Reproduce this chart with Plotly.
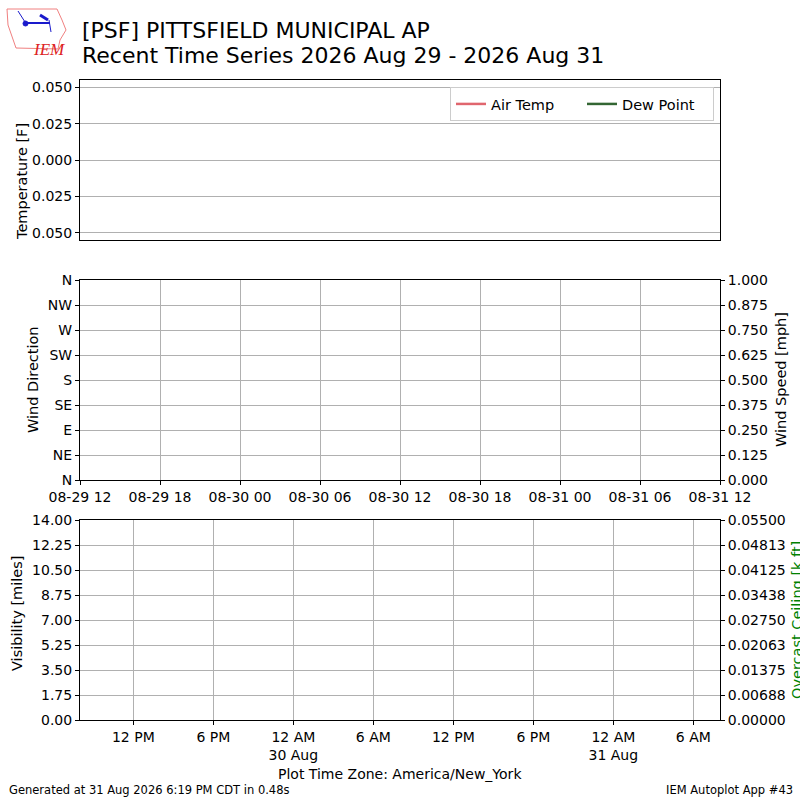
import plotly.graph_objects as go

# Dados (a estacao nao reportou nada no periodo -> series vazias)
times = [None]
air_temp = [None]
dew_point = [None]
wind_dir = [None]
wind_speed = [None]
visibility = [None]
ceiling = [None]

# Ticks
temp_ticks = [-0.05, -0.025, 0.0, 0.025, 0.05]
temp_labels = ["0.050", "0.025", "0.000", "0.025", "0.050"]
dir_ticks = [0, 45, 90, 135, 180, 225, 270, 315, 360]
dir_labels = ["N", "NE", "E", "SE", "S", "SW", "W", "NW", "N"]
speed_ticks = [0, 0.125, 0.25, 0.375, 0.5, 0.625, 0.75, 0.875, 1.0]
wind_xticks = ["2026-08-29 12:00", "2026-08-29 18:00", "2026-08-30 00:00",
               "2026-08-30 06:00", "2026-08-30 12:00", "2026-08-30 18:00",
               "2026-08-31 00:00", "2026-08-31 06:00", "2026-08-31 12:00"]
wind_xlabels = ["08-29 12", "08-29 18", "08-30 00", "08-30 06", "08-30 12",
                "08-30 18", "08-31 00", "08-31 06", "08-31 12"]
vis_ticks = [0, 1.75, 3.5, 5.25, 7.0, 8.75, 10.5, 12.25, 14.0]
ceil_ticks = [0, 0.006875, 0.01375, 0.020625, 0.0275, 0.034375, 0.04125, 0.048125, 0.055]
ceil_labels = ["0.00000", "0.00688", "0.01375", "0.02063", "0.02750",
               "0.03438", "0.04125", "0.04813", "0.05500"]
local_xticks = ["2026-08-29 12:00", "2026-08-29 18:00", "2026-08-30 00:00",
                "2026-08-30 06:00", "2026-08-30 12:00", "2026-08-30 18:00",
                "2026-08-31 00:00", "2026-08-31 06:00"]
local_xlabels = ["12 PM", "6 PM", "12 AM<br>30 Aug", "6 AM", "12 PM", "6 PM",
                 "12 AM<br>31 Aug", "6 AM"]

FONT = "DejaVu Sans"
GRID = "#b0b0b0"

# conversao pixel -> paper (area de plot 80..720 x 80..720)
def px(x):
    return (x - 80) / 640

def py(y):
    return (720 - y) / 640

fig = go.Figure()

fig.add_trace(go.Scatter(x=times, y=air_temp, name="Air Temp", mode="lines",
                         line=dict(color="#e0666e", width=2.5), xaxis="x", yaxis="y"))
fig.add_trace(go.Scatter(x=times, y=dew_point, name="Dew Point", mode="lines",
                         line=dict(color="#336633", width=2.5), xaxis="x", yaxis="y"))
fig.add_trace(go.Scatter(x=times, y=wind_dir, mode="markers", showlegend=False,
                         xaxis="x2", yaxis="y2"))
fig.add_trace(go.Scatter(x=times, y=wind_speed, mode="lines", showlegend=False,
                         xaxis="x2", yaxis="y3"))
fig.add_trace(go.Scatter(x=times, y=visibility, mode="lines", showlegend=False,
                         xaxis="x3", yaxis="y4"))
fig.add_trace(go.Scatter(x=times, y=ceiling, mode="lines", showlegend=False,
                         xaxis="x3", yaxis="y5"))

axis_common = dict(showline=True, linecolor="black", linewidth=1, mirror=True,
                   ticks="outside", ticklen=4, tickcolor="black",
                   tickfont=dict(family=FONT, size=14, color="black"),
                   gridcolor=GRID, gridwidth=1, zeroline=False)

fig.update_layout(
    width=800, height=800,
    margin=dict(l=80, r=80, t=80, b=80),
    paper_bgcolor="white", plot_bgcolor="white",
    font=dict(family=FONT, size=14, color="black"),
    xaxis=dict(axis_common, domain=[0, 1], anchor="y", type="date",
               range=["2026-08-29 12:00", "2026-08-31 12:00"],
               showticklabels=False, ticks="", showgrid=False),
    yaxis=dict(axis_common, domain=[0.75, 1.0], anchor="x",
               range=[-0.055, 0.055], tickvals=temp_ticks, ticktext=temp_labels),
    xaxis2=dict(axis_common, domain=[0, 1], anchor="y2", type="date",
                range=["2026-08-29 12:00", "2026-08-31 12:00"],
                tickvals=wind_xticks, ticktext=wind_xlabels, showgrid=True),
    yaxis2=dict(axis_common, domain=[0.375, 0.6875], anchor="x2",
                range=[0, 360], tickvals=dir_ticks, ticktext=dir_labels, mirror=False),
    yaxis3=dict(axis_common, overlaying="y2", side="right", anchor="x2",
                range=[0, 1], tickvals=speed_ticks, tickformat=".3f",
                showgrid=False, mirror=False),
    xaxis3=dict(axis_common, domain=[0, 1], anchor="y4", type="date",
                range=["2026-08-29 08:00", "2026-08-31 08:00"],
                tickvals=local_xticks, ticktext=local_xlabels, showgrid=True),
    yaxis4=dict(axis_common, domain=[0, 0.3125], anchor="x3",
                range=[0, 14], tickvals=vis_ticks, tickformat=".2f", mirror=False),
    yaxis5=dict(axis_common, overlaying="y4", side="right", anchor="x3",
                range=[0, 0.055], tickvals=ceil_ticks, ticktext=ceil_labels,
                showgrid=False, mirror=False),
    legend=dict(orientation="h", x=px(714), y=py(87), xanchor="right", yanchor="top",
                bgcolor="white", bordercolor="#cccccc", borderwidth=1,
                font=dict(family=FONT, size=14.5), itemwidth=30,
                entrywidth=86, entrywidthmode="pixels"),
)

annotations = []
titles = [
    ("[PSF] PITTSFIELD MUNICIPAL AP", 30),
    ("Recent Time Series 2026 Aug 29 - 2026 Aug 31", 56),
]
for txt, y in titles:
    annotations.append(dict(text=txt, x=px(80), y=py(y), xref="paper", yref="paper",
                            xanchor="left", yanchor="middle", showarrow=False,
                            font=dict(family=FONT, size=22, color="black")))

side_titles = [
    ("Temperature [F]", 22, 182, "black"),
    ("Wind Direction", 33, 380, "black"),
    ("Visibility [miles]", 17, 614, "black"),
    ("Wind Speed [mph]", 781, 380, "black"),
    ("Overcast Ceiling [k ft]", 797, 620, "green"),
]
for txt, x, y, c in side_titles:
    annotations.append(dict(text=txt, x=px(x), y=py(y), xref="paper", yref="paper",
                            textangle=-90, showarrow=False, xanchor="center", yanchor="middle",
                            font=dict(family=FONT, size=14.5, color=c)))

annotations.append(dict(text="Plot Time Zone: America/New_York", x=px(400), y=py(774),
                        xref="paper", yref="paper", showarrow=False, yanchor="middle",
                        font=dict(family=FONT, size=14, color="black")))
annotations.append(dict(text="Generated at 31 Aug 2026 6:19 PM CDT in 0.48s", x=px(7), y=py(790),
                        xref="paper", yref="paper", showarrow=False, xanchor="left",
                        yanchor="middle", font=dict(family=FONT, size=11.5, color="black")))
annotations.append(dict(text="IEM Autoplot App #43", x=px(795), y=py(790),
                        xref="paper", yref="paper", showarrow=False, xanchor="right",
                        yanchor="middle", font=dict(family=FONT, size=11.5, color="black")))

# logo IEM (aproximado)
annotations.append(dict(text="<i>IEM</i>", x=px(31), y=py(38), xref="paper", yref="paper",
                        showarrow=False, font=dict(family="Liberation Serif", size=17, color="#dd2222")))
iowa = "M %f,%f L %f,%f L %f,%f L %f,%f L %f,%f L %f,%f L %f,%f L %f,%f Z" % (
    px(7), py(9), px(57), py(9), px(62), py(20), px(66), py(30),
    px(60), py(40), px(58), py(49), px(16), py(48), px(8), py(25))
shapes = [
    dict(type="path", path=iowa, xref="paper", yref="paper",
         line=dict(color="#f08080", width=1)),
    dict(type="line", x0=px(24), y0=py(23), x1=px(50), y1=py(23), xref="paper", yref="paper",
         line=dict(color="#1a1acc", width=2)),
    dict(type="line", x0=px(18), y0=py(11), x1=px(25), y1=py(22), xref="paper", yref="paper",
         line=dict(color="#1a1acc", width=1)),
    dict(type="line", x0=px(40), y0=py(15), x1=px(48), y1=py(20), xref="paper", yref="paper",
         line=dict(color="#1a1acc", width=3)),
    dict(type="line", x0=px(49), y0=py(20), x1=px(51), y1=py(32), xref="paper", yref="paper",
         line=dict(color="#1a1acc", width=1)),
    dict(type="circle", x0=px(23), y0=py(21), x1=px(28), y1=py(26), xref="paper", yref="paper",
         fillcolor="#1a1acc", line=dict(color="#1a1acc", width=1)),
]

fig.update_layout(annotations=annotations, shapes=shapes)

fig.write_html("out.html", config={"displayModeBar": False},
               post_script="document.body.style.margin='0';")
